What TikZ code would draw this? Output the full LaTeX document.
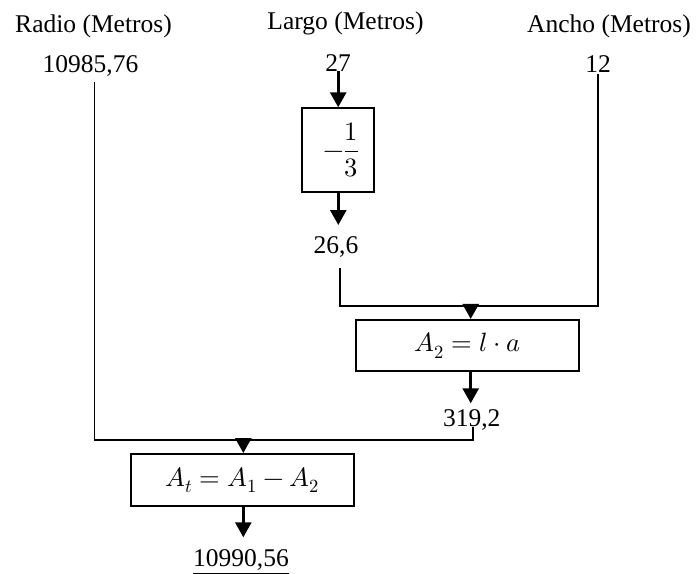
\documentclass[tikz,border=0pt]{standalone}
\usepackage{fontspec}
\usepackage{unicode-math}
\setmainfont{Liberation Serif}
\setmathfont{Latin Modern Math}
\usetikzlibrary{arrows.meta,calc}
\begin{document}
\begin{tikzpicture}[x=1pt,y=-1pt,
  txt/.style={inner sep=0pt,anchor=base,font=\fontsize{25.5}{30}\selectfont},
  procbox/.style={draw,line width=2pt,inner sep=0pt,font=\fontsize{26.5}{31}\selectfont},
  thinline/.style={line width=1.6pt},
  arr/.style={line width=2.6pt,-{Triangle[width=16pt,length=15pt]},shorten >=0pt}
]
\useasboundingbox (0,0) rectangle (698,573);
% labels
\node[txt] (radio) at (93.5,32) {Radio (Metros)};
\node[txt] (largo) at (345.5,29) {Largo (Metros)};
\node[txt] (ancho) at (609,32) {Ancho (Metros)};
% values
\node[txt] (rv) at (90.5,72) {10985,76};
\node[txt] (lv) at (338,71) {27};
\node[txt] (av) at (598,72) {12};
\node[txt] (mv) at (336,253) {26,6};
\node[txt] (pv) at (471.7,426.7) {319,2};
\node[txt] (res) at (241,566) {\underline{10990,56}};
% boxes
\node[procbox,minimum width=71.7pt,minimum height=83.4pt] (b1) at (338.2,150) {\hspace*{6pt}$-\dfrac{1}{3}$};
\node[procbox,minimum width=222.7pt,minimum height=50.7pt] (b2) at (467.3,345.3) {$A_2=l\cdot a$};
\node[procbox,minimum width=223pt,minimum height=52pt] (b3) at (242.5,480) {$A_t=A_1-A_2$};
% junction coordinates
\coordinate (rtop) at (94.3,82);
\coordinate (atop) at (597.7,74);
\coordinate (mtop) at (340,268);
\coordinate (j2) at (470.7,305.7);
\coordinate (j3) at (243.3,440);
\coordinate (pbot) at (472.7,440);
\coordinate (mtip) at (338.3,225);
\coordinate (ptip) at (470.7,403.3);
\coordinate (rtip) at (243.3,537.3);
% connectors
\draw[arr] (lv.south -| b1.north) -- (b1.north);
\draw[arr] (b1.south -| mtip) -- (mtip);
\draw[thinline] (mtop) |- (j2) -| (atop);
\draw[arr] (j2) -- (j2 |- b2.north);
\draw[arr] (b2.south -| ptip) -- (ptip);
\draw[thinline] (rtop) |- (j3) -- (pbot) -- (pbot |- pv.base);
\draw[arr] (j3) -- (j3 |- b3.north);
\draw[arr] (b3.south -| rtip) -- (rtip);
\end{tikzpicture}
\end{document}
